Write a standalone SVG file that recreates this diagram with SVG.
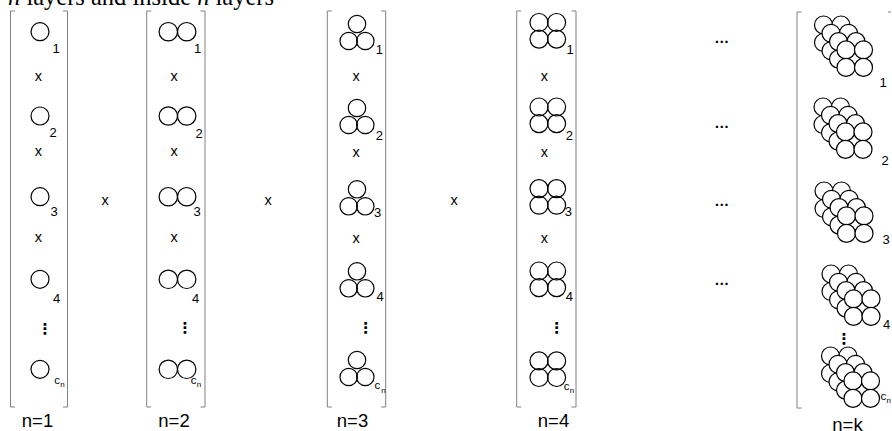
<svg xmlns="http://www.w3.org/2000/svg" xmlns:xlink="http://www.w3.org/1999/xlink" width="892" height="431" viewBox="0 0 892 431">
<style>
  .br{fill:none;stroke:#808080;stroke-width:1}
  .c{fill:none;stroke:#000;stroke-width:1.2}
  .cw{fill:#fff;stroke:#000;stroke-width:1.2}
  text{font-family:"Liberation Sans",Arial,sans-serif;fill:#000}
  .lb{font-size:13px;text-anchor:middle}
  .cs{font-size:11.5px;text-anchor:middle}
  .ns{font-size:8px;text-anchor:middle}
  .x{font-size:14.5px;text-anchor:middle}
  .nl{font-size:18.5px;text-anchor:middle}
  .vd{font-family:"DejaVu Sans",sans-serif;font-size:15px;font-weight:bold;text-anchor:middle}
  .hd{font-size:15px;font-weight:bold;text-anchor:middle}
  .title{font-family:"Liberation Serif","Times New Roman",serif;font-size:24.5px}
</style>
<defs>
  <g id="c1"><circle class="c" cx="0" cy="0" r="9"/></g>
  <g id="c2"><circle class="c" cx="-9.2" cy="0" r="9.2"/><circle class="c" cx="9.2" cy="0" r="9.2"/></g>
  <g id="c3"><circle class="c" cx="0" cy="-17" r="8.7"/><circle class="c" cx="-8.3" cy="0" r="8.7"/><circle class="c" cx="8.3" cy="0" r="8.7"/></g>
  <g id="c4"><circle class="c" cx="-8.8" cy="-8.3" r="9"/><circle class="c" cx="8.8" cy="-8.3" r="9"/><circle class="c" cx="-8.8" cy="8.3" r="9"/><circle class="c" cx="8.8" cy="8.3" r="9"/></g>
  <g id="lay"><circle class="cw" cx="0" cy="0" r="9"/><circle class="cw" cx="17.5" cy="0" r="9"/><circle class="cw" cx="0" cy="17.5" r="9"/><circle class="cw" cx="17.5" cy="17.5" r="9"/></g>
  <g id="ck">
    <use xlink:href="#lay" x="0" y="0"/>
    <use xlink:href="#lay" x="7.5" y="8.3"/>
    <use xlink:href="#lay" x="15" y="16.6"/>
    <use xlink:href="#lay" x="22.5" y="24.9"/>
  </g>
</defs>

<text class="title" x="8" y="4.5"><tspan font-style="italic">n</tspan> layers and inside <tspan font-style="italic">n</tspan> layers</text>

<g id="brackets">
  <path class="br" d="M15,11 H10.5 V407 H15 M63,11 H67.5 V407 H63"/>
  <path class="br" d="M151.2,11 H146.7 V407 H151.2 M200.5,11 H205 V407 H200.5"/>
  <path class="br" d="M331.8,11 H327.3 V407 H331.8 M381.2,11 H385.7 V407 H381.2"/>
  <path class="br" d="M521.2,11 H516.7 V407 H521.2 M571.5,11 H576 V407 H571.5"/>
  <path class="br" d="M801.5,12 H797 V408 H801.5 M888,12 H891"/>
</g>

<g id="col1">
  <use xlink:href="#c1" x="40" y="31.7"/>
  <use xlink:href="#c1" x="40" y="116"/>
  <use xlink:href="#c1" x="40" y="196.7"/>
  <use xlink:href="#c1" x="40" y="279.3"/>
  <use xlink:href="#c1" x="40" y="369.3"/>
  <text class="lb" x="56" y="52.5">1</text>
  <text class="lb" x="53" y="137">2</text>
  <text class="lb" x="54" y="216">3</text>
  <text class="lb" x="56.5" y="303">4</text>
  <text class="cs" x="57" y="384">c</text><text class="ns" x="62.5" y="387">n</text>
  <text class="x" x="38.3" y="80.5">x</text>
  <text class="x" x="38.3" y="156">x</text>
  <text class="x" x="38.3" y="241.5">x</text>
  <text class="vd" x="45" y="334">⋮</text>
  <text class="nl" x="37.5" y="426.5">n=1</text>
</g>

<g id="col2">
  <use xlink:href="#c2" x="177.5" y="31.7"/>
  <use xlink:href="#c2" x="177.5" y="116"/>
  <use xlink:href="#c2" x="177.5" y="196.7"/>
  <use xlink:href="#c2" x="177.5" y="279.3"/>
  <use xlink:href="#c2" x="177.5" y="369.3"/>
  <text class="lb" x="197.7" y="52.5">1</text>
  <text class="lb" x="199" y="137.5">2</text>
  <text class="lb" x="197" y="216">3</text>
  <text class="lb" x="195.7" y="303">4</text>
  <text class="cs" x="193.5" y="384">c</text><text class="ns" x="199" y="387">n</text>
  <text class="x" x="174" y="80.5">x</text>
  <text class="x" x="174" y="156">x</text>
  <text class="x" x="174" y="241.5">x</text>
  <text class="vd" x="185" y="333">⋮</text>
  <text class="nl" x="174" y="426.5">n=2</text>
</g>

<g id="col3">
  <use xlink:href="#c3" x="357" y="41"/>
  <use xlink:href="#c3" x="357" y="125"/>
  <use xlink:href="#c3" x="357" y="206.3"/>
  <use xlink:href="#c3" x="357" y="288.3"/>
  <use xlink:href="#c3" x="357" y="377"/>
  <text class="lb" x="379.3" y="53.5">1</text>
  <text class="lb" x="379.3" y="139.5">2</text>
  <text class="lb" x="377.7" y="217">3</text>
  <text class="lb" x="380" y="301">4</text>
  <text class="cs" x="377.3" y="389">c</text><text class="ns" x="383.5" y="393">n</text>
  <text class="x" x="356" y="80.5">x</text>
  <text class="x" x="356" y="156.5">x</text>
  <text class="x" x="356" y="242.8">x</text>
  <text class="vd" x="365.7" y="333">⋮</text>
  <text class="nl" x="352.5" y="426.5">n=3</text>
</g>

<g id="col4">
  <use xlink:href="#c4" x="547.8" y="30.8"/>
  <use xlink:href="#c4" x="547.8" y="115.3"/>
  <use xlink:href="#c4" x="547.8" y="196.9"/>
  <use xlink:href="#c4" x="547.8" y="279.3"/>
  <use xlink:href="#c4" x="547.8" y="369.2"/>
  <text class="lb" x="570" y="53.5">1</text>
  <text class="lb" x="569.3" y="139.5">2</text>
  <text class="lb" x="568.3" y="216">3</text>
  <text class="lb" x="569.3" y="301">4</text>
  <text class="cs" x="566.7" y="389.5">c</text><text class="ns" x="572" y="392.5">n</text>
  <text class="x" x="544.3" y="80.5">x</text>
  <text class="x" x="544.3" y="156.5">x</text>
  <text class="x" x="544.3" y="242.8">x</text>
  <text class="vd" x="556.7" y="333">⋮</text>
  <text class="nl" x="553.5" y="426.5">n=4</text>
</g>

<g id="between">
  <text class="x" x="105" y="205.2">x</text>
  <text class="x" x="268" y="205.2">x</text>
  <text class="x" x="454" y="204.5">x</text>
  <text class="hd" x="721.7" y="43">…</text>
  <text class="hd" x="721.7" y="128">…</text>
  <text class="hd" x="721.7" y="206">…</text>
  <text class="hd" x="721.7" y="285.3">…</text>
</g>

<g id="colk">
  <use xlink:href="#ck" x="823.5" y="25"/>
  <use xlink:href="#ck" x="823" y="107"/>
  <use xlink:href="#ck" x="824" y="191"/>
  <use xlink:href="#ck" x="831" y="274"/>
  <use xlink:href="#ck" x="830.5" y="356"/>
  <text class="lb" x="883" y="87">1</text>
  <text class="lb" x="885" y="164.5">2</text>
  <text class="lb" x="886" y="244">3</text>
  <text class="lb" x="886.7" y="328.5">4</text>
  <text class="cs" x="883.3" y="400">c</text><text class="ns" x="888.8" y="403">n</text>
  <text class="vd" x="844" y="344">⋮</text>
  <text class="nl" x="847.5" y="430.5">n=k</text>
</g>
</svg>
